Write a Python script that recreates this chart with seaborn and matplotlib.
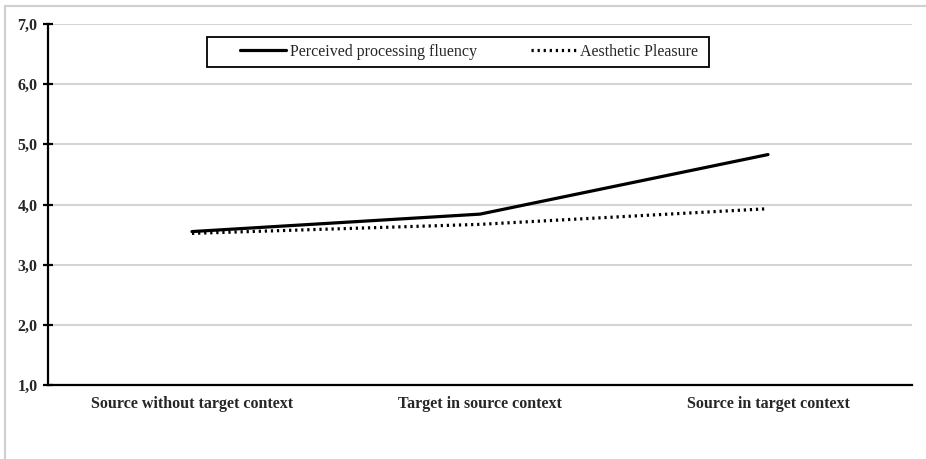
import seaborn as sns
import numpy as np
import pandas as pd
import matplotlib.pyplot as plt
from matplotlib.patches import Rectangle

# conditions
conditions = ["Source without target context", "Target in source context", "Source in target context"]

# means per condition
fluency = [3.55, 3.84, 4.83]
pleasure = [3.52, 3.67, 3.93]

series_names = ["Perceived processing fluency", "Aesthetic Pleasure"]
y_ticks = [1.0, 2.0, 3.0, 4.0, 5.0, 6.0, 7.0]

df = pd.DataFrame({
    "condition": conditions * 2,
    "value": fluency + pleasure,
    "measure": [series_names[0]] * 3 + [series_names[1]] * 3,
})

sns.set_style("white")
plt.rcParams['font.family'] = ['Liberation Serif', 'DejaVu Serif']

W, H = 926, 459
fig = plt.figure(figsize=(W / 100, H / 100), dpi=100)
ax = fig.add_axes([48 / W, 1 - 385 / H, 864 / W, 361 / H])

# light grey frame around the chart (top and left visible)
fig.patches.append(Rectangle((5 / W, -0.05), 1.1, 1 - 6 / H + 0.05,
                             transform=fig.transFigure, fill=False,
                             edgecolor="#cfcfcf", linewidth=1.5))

sns.lineplot(data=df, x="condition", y="value", hue="measure", style="measure",
             palette=["black", "black"],
             dashes={series_names[0]: "", series_names[1]: (0.7, 1.2)},
             linewidth=2.3, sort=False, ax=ax)

ax.set_xlim(-0.5, 2.5)
ax.set_ylim(1.0, 7.0)
ax.set_yticks(y_ticks)
ax.set_yticklabels([f"{t:.1f}".replace(".", ",") for t in y_ticks],
                   fontweight="bold", fontsize=11.5)
ax.set_xticks(range(len(conditions)))
ax.set_xticklabels(conditions, fontweight="bold", fontsize=11.5)
ax.set_xlabel("")
ax.set_ylabel("")

ax.yaxis.grid(True, color="#d4d4d4", linewidth=1.5)
ax.set_axisbelow(True)
for side in ["top", "right"]:
    ax.spines[side].set_visible(False)
for side in ["left", "bottom"]:
    ax.spines[side].set_color("black")
    ax.spines[side].set_linewidth(1.6)

ax.tick_params(axis="y", which="major", direction="inout", length=7, width=1.6,
               color="black", left=True, pad=4)
ax.tick_params(axis="x", length=0, pad=8)

# legend box drawn separately, entries placed inside it
fig.patches.append(Rectangle((207 / W, 1 - 67 / H), 502 / W, 30 / H,
                             transform=fig.transFigure, fill=False,
                             edgecolor="black", linewidth=1.3, zorder=5))
leg = ax.legend(loc="center left", bbox_to_anchor=(240 / W, 1 - 52 / H),
                bbox_transform=fig.transFigure, ncol=2, frameon=False,
                fontsize=11.5, handlelength=2.9, handletextpad=0.2,
                borderpad=0, borderaxespad=0, columnspacing=3.4)
leg.set_title(None)

fig.savefig("out.png", dpi=100)
